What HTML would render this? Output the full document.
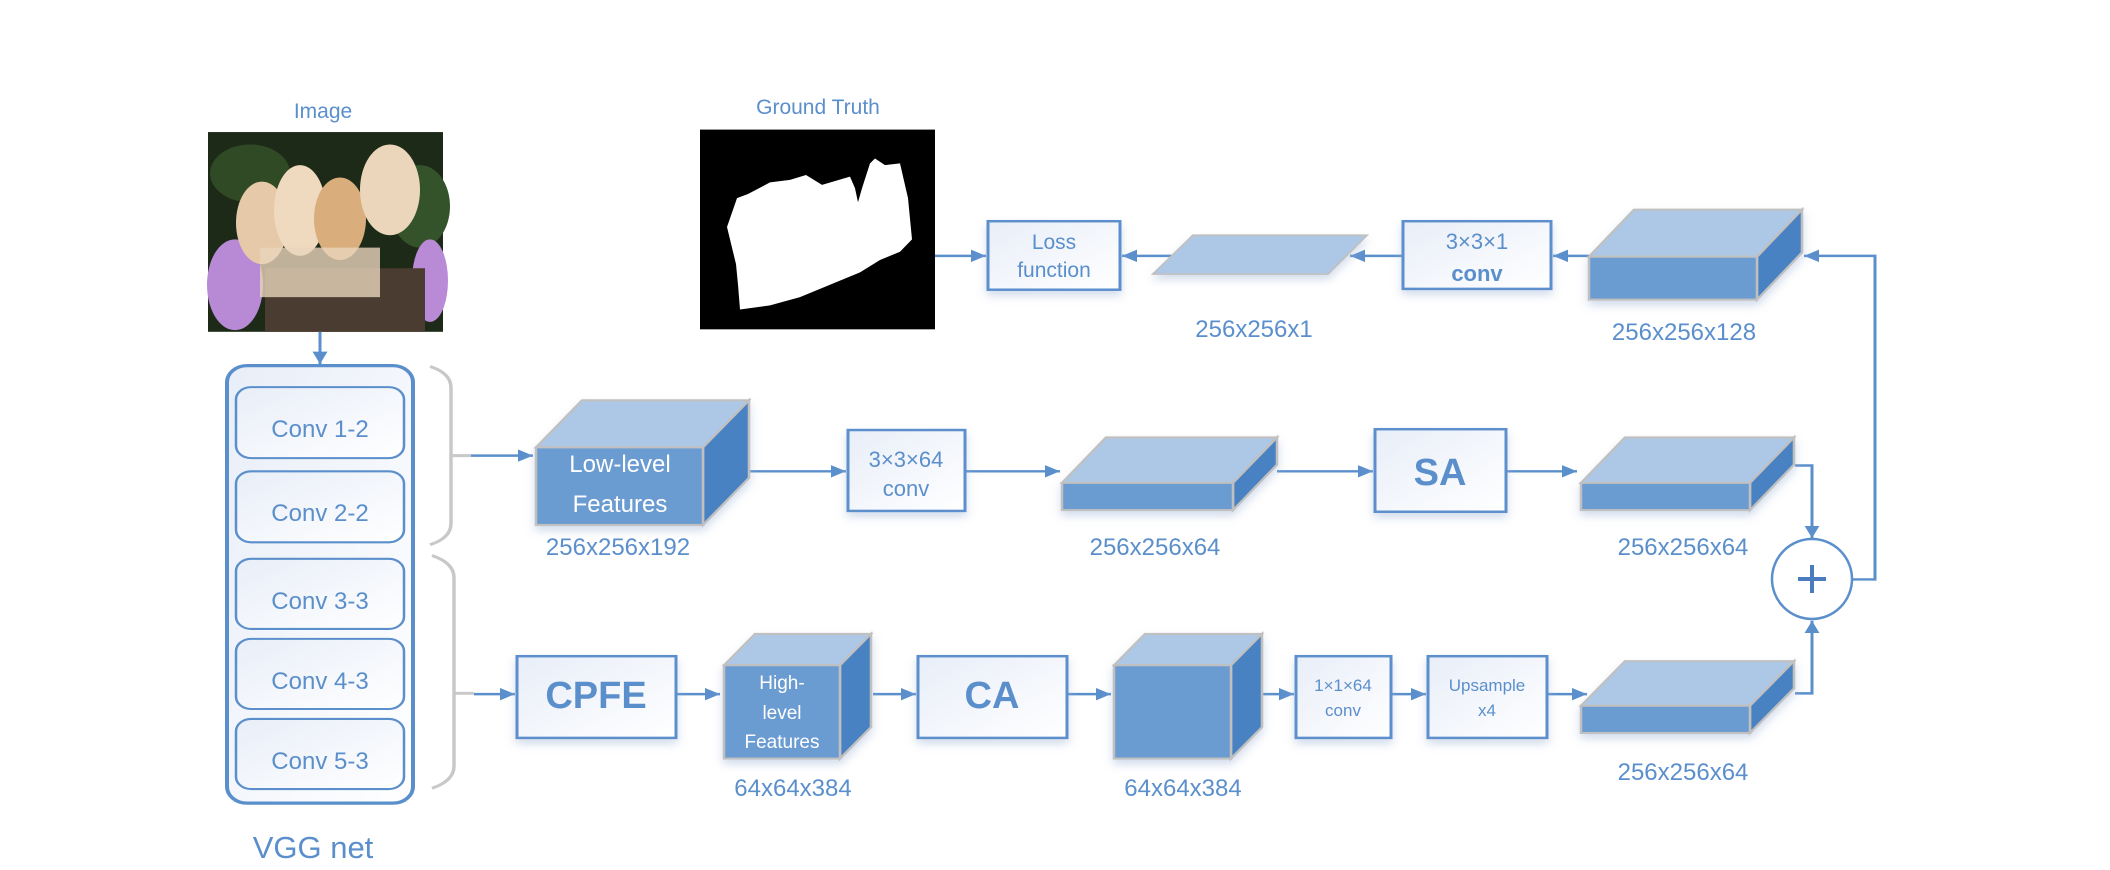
<!DOCTYPE html>
<html><head><meta charset="utf-8"><style>
html,body{margin:0;padding:0;background:#fff;overflow:hidden;}
svg{display:block;}
text{font-family:"Liberation Sans",sans-serif;fill:#5b8fcc;}
</style></head><body>
<svg width="2110" height="870" viewBox="0 0 2110 870" xmlns="http://www.w3.org/2000/svg">
<defs>
<marker id="ah" viewBox="0 0 10 10" refX="10" refY="5" markerWidth="5" markerHeight="5" orient="auto" markerUnits="strokeWidth">
<path d="M0,0 L10,5 L0,10 z" fill="#5b8fcc"/></marker>
<linearGradient id="bg" x1="0" y1="0" x2="1" y2="1"><stop offset="0" stop-color="#e8eef8"/><stop offset="1" stop-color="#ffffff"/></linearGradient>
<filter id="sh" x="-10%" y="-10%" width="130%" height="140%"><feDropShadow dx="0" dy="6" stdDeviation="5" flood-color="#9db4d6" flood-opacity="0.45"/></filter>
</defs>

<g transform="scale(1,0.8254)">
<!-- Image -->
<rect x="208" y="160" width="235" height="242" fill="#1e2a18"/>
<ellipse cx="250" cy="210" rx="40" ry="35" fill="#2f4a25"/>
<ellipse cx="420" cy="250" rx="30" ry="50" fill="#35532a"/>
<ellipse cx="235" cy="345" rx="28" ry="55" fill="#b88ad6"/>
<ellipse cx="430" cy="340" rx="18" ry="50" fill="#b98ad6"/>
<rect x="265" y="325" width="160" height="77" fill="#4a3c30"/>
<ellipse cx="262" cy="270" rx="26" ry="50" fill="#e6c9a8"/>
<ellipse cx="300" cy="255" rx="26" ry="55" fill="#efd9bf"/>
<ellipse cx="340" cy="265" rx="26" ry="50" fill="#d9ae7c"/>
<ellipse cx="390" cy="230" rx="30" ry="55" fill="#ecd6bb"/>
<rect x="260" y="300" width="120" height="60" fill="#e9d4bb" opacity="0.8"/>

<line x1="320" y1="402" x2="320" y2="441" stroke="#5b8fcc" stroke-width="3" marker-end="url(#ah)"/>

<!-- VGG -->
<rect x="227" y="443" width="186" height="530" rx="20" fill="url(#bg)" stroke="#5b8fcc" stroke-width="4"/>
<g fill="url(#bg)" stroke="#5b8fcc" stroke-width="2.5">
<rect x="236" y="469" width="168" height="86" rx="15"/>
<rect x="236" y="571" width="168" height="86" rx="15"/>
<rect x="236" y="677" width="168" height="85" rx="15"/>
<rect x="236" y="774" width="168" height="85" rx="15"/>
<rect x="236" y="871" width="168" height="85" rx="15"/>
</g>

<!-- brackets -->
<path d="M430,444 Q451,452 451,470 L451,634 Q451,652 430,660" fill="none" stroke="#c8c8c8" stroke-width="3.5"/>
<line x1="451" y1="552" x2="471" y2="552" stroke="#c8c8c8" stroke-width="3.5"/>
<path d="M432,673 Q454,682 454,700 L454,928 Q454,946 432,955" fill="none" stroke="#c8c8c8" stroke-width="3.5"/>
<line x1="454" y1="840" x2="474" y2="840" stroke="#c8c8c8" stroke-width="3.5"/>

<!-- Ground truth -->
<rect x="700" y="157" width="235" height="242" fill="#000"/>
<path d="M737,240 L748,235 L770,221 L790,218 L806,212 L822,224 L850,214 L855,228 L858,245 L862,228 L870,198 L875,192 L885,200 L900,198 L908,240 L912,290 L900,305 L880,315 L860,330 L830,345 L800,360 L770,370 L740,375 L738,345 L736,320 L727,275 Z" fill="#fff"/>

<g stroke="#5b8fcc" stroke-width="3" fill="none">
<line x1="935" y1="310" x2="986" y2="310" marker-end="url(#ah)"/>
<line x1="1175" y1="310" x2="1122" y2="310" marker-end="url(#ah)"/>
<line x1="1403" y1="310" x2="1350" y2="310" marker-end="url(#ah)"/>
<line x1="1589" y1="310" x2="1553" y2="310" marker-end="url(#ah)"/>
<line x1="471" y1="552" x2="533" y2="552" marker-end="url(#ah)"/>
<line x1="749" y1="571" x2="846" y2="571" marker-end="url(#ah)"/>
<line x1="965" y1="571" x2="1060" y2="571" marker-end="url(#ah)"/>
<line x1="1277" y1="571" x2="1373" y2="571" marker-end="url(#ah)"/>
<line x1="1506" y1="571" x2="1577" y2="571" marker-end="url(#ah)"/>
<line x1="474" y1="841" x2="515" y2="841" marker-end="url(#ah)"/>
<line x1="676" y1="841" x2="720" y2="841" marker-end="url(#ah)"/>
<line x1="873" y1="841" x2="916" y2="841" marker-end="url(#ah)"/>
<line x1="1067" y1="841" x2="1111" y2="841" marker-end="url(#ah)"/>
<line x1="1262" y1="841" x2="1294" y2="841" marker-end="url(#ah)"/>
<line x1="1391" y1="841" x2="1426" y2="841" marker-end="url(#ah)"/>
<line x1="1547" y1="841" x2="1587" y2="841" marker-end="url(#ah)"/>
<polyline points="1795,564 1812,564 1812,652" marker-end="url(#ah)"/>
<polyline points="1795,840 1812,840 1812,752" marker-end="url(#ah)"/>
<polyline points="1852,702 1875,702 1875,310 1804,310" marker-end="url(#ah)"/>
</g>

<g fill="url(#bg)" stroke="#5b8fcc" stroke-width="3" filter="url(#sh)">
<rect x="988" y="268" width="132" height="83"/>
<rect x="1403" y="268" width="148" height="82"/>
<rect x="848" y="521" width="117" height="98"/>
<rect x="1375" y="520" width="131" height="100"/>
<rect x="517" y="795" width="159" height="99"/>
<rect x="918" y="795" width="149" height="99"/>
<rect x="1296" y="795" width="95" height="99"/>
<rect x="1428" y="795" width="119" height="99"/>
</g>

<polygon points="1193,285 1367,285 1328,332 1153,332" fill="#adc8e6" stroke="#c0c0c0" stroke-width="2" filter="url(#sh)"/>

<g stroke="#c0c0c0" stroke-width="2.5" filter="url(#sh)">
<polygon points="536,542 582,485 749,485 703,542" fill="#adc8e6"/>
<polygon points="703,542 749,485 749,579 703,636" fill="#4a82c2"/>
<rect x="536" y="542" width="167" height="94" fill="#6a9bd1"/>
<polygon points="724,806 755,768 871,768 840,806" fill="#adc8e6"/>
<polygon points="840,806 871,768 871,881 840,919" fill="#4a82c2"/>
<rect x="724" y="806" width="116" height="113" fill="#6a9bd1"/>
<polygon points="1062,585 1106,530 1277,530 1233,585" fill="#adc8e6"/>
<polygon points="1233,585 1277,530 1277,563 1233,618" fill="#4a82c2"/>
<rect x="1062" y="585" width="171" height="33" fill="#6a9bd1"/>
<polygon points="1581,585 1625,530 1794,530 1750,585" fill="#adc8e6"/>
<polygon points="1750,585 1794,530 1794,563 1750,618" fill="#4a82c2"/>
<rect x="1581" y="585" width="169" height="33" fill="#6a9bd1"/>
<polygon points="1589,311 1634,254 1802,254 1757,311" fill="#adc8e6"/>
<polygon points="1757,311 1802,254 1802,306 1757,363" fill="#4a82c2"/>
<rect x="1589" y="311" width="168" height="52" fill="#6a9bd1"/>
<polygon points="1114,806 1145,768 1262,768 1231,806" fill="#adc8e6"/>
<polygon points="1231,806 1262,768 1262,881 1231,919" fill="#4a82c2"/>
<rect x="1114" y="806" width="117" height="113" fill="#6a9bd1"/>
<polygon points="1581,855 1625,801 1794,801 1750,855" fill="#adc8e6"/>
<polygon points="1750,855 1794,801 1794,834 1750,888" fill="#4a82c2"/>
<rect x="1581" y="855" width="169" height="33" fill="#6a9bd1"/>
</g>
</g>

<!-- circle -->
<circle cx="1812" cy="579" r="40" fill="#fff" stroke="#5b8fcc" stroke-width="2.5"/>
<path d="M1812,565 L1812,593 M1798,579 L1826,579" stroke="#4a7cbf" stroke-width="4"/>

<!-- texts -->
<text x="323" y="118" font-size="21" text-anchor="middle">Image</text>
<text x="818" y="114" font-size="21" text-anchor="middle">Ground Truth</text>
<g font-size="24" text-anchor="middle">
<text x="320" y="437">Conv 1-2</text>
<text x="320" y="521">Conv 2-2</text>
<text x="320" y="609">Conv 3-3</text>
<text x="320" y="689">Conv 4-3</text>
<text x="320" y="769">Conv 5-3</text>
</g>
<text x="313" y="858" font-size="31" text-anchor="middle">VGG net</text>

<g text-anchor="middle">
<text x="1054" y="249" font-size="21">Loss</text>
<text x="1054" y="277" font-size="21">function</text>
<text x="1477" y="249" font-size="22">3×3×1</text>
<text x="1477" y="281" font-size="22" font-weight="bold" fill="#4a7cbf">conv</text>
<text x="906" y="467" font-size="22">3×3×64</text>
<text x="906" y="496" font-size="22">conv</text>
<text x="1440" y="485" font-size="38" font-weight="bold" fill="#4a7cbf">SA</text>
<text x="596" y="708" font-size="38" font-weight="bold" fill="#4a7cbf">CPFE</text>
<text x="992" y="708" font-size="38" font-weight="bold" fill="#4a7cbf">CA</text>
<text x="1343" y="691" font-size="17">1×1×64</text>
<text x="1343" y="716" font-size="17">conv</text>
<text x="1487" y="691" font-size="17">Upsample</text>
<text x="1487" y="716" font-size="17">x4</text>
<text x="620" y="472" font-size="24" style="fill:#fff">Low-level</text>
<text x="620" y="512" font-size="24" style="fill:#fff">Features</text>
<text x="782" y="689" font-size="19" style="fill:#fff">High-</text>
<text x="782" y="719" font-size="19" style="fill:#fff">level</text>
<text x="782" y="748" font-size="19" style="fill:#fff">Features</text>
</g>

<g font-size="24" text-anchor="middle">
<text x="618" y="555">256x256x192</text>
<text x="793" y="796">64x64x384</text>
<text x="1254" y="337">256x256x1</text>
<text x="1684" y="340">256x256x128</text>
<text x="1155" y="555">256x256x64</text>
<text x="1683" y="555">256x256x64</text>
<text x="1183" y="796">64x64x384</text>
<text x="1683" y="780">256x256x64</text>
</g>
</svg>
</body></html>
